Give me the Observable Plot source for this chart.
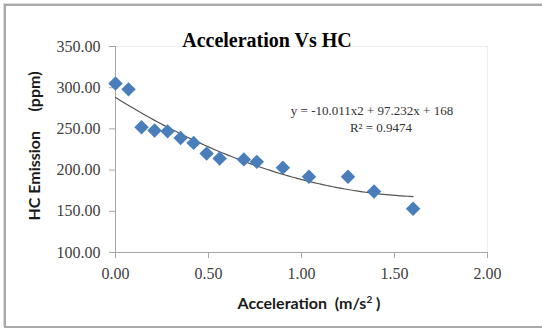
<!DOCTYPE html>
<html>
<head>
<meta charset="utf-8">
<script src="https://cdn.jsdelivr.net/npm/d3@7"></script>
<script src="https://cdn.jsdelivr.net/npm/@observablehq/plot@0.6"></script>
<style>
  html, body { margin: 0; padding: 0; background: #fff; }
  #wrap { position: relative; width: 542px; height: 329px; overflow: hidden; }
  #frame { position: absolute; left: 4px; top: 4px; width: 560px; height: 320px;
           border: 2px solid #a9a9a9; box-shadow: -1px -1px 0 #d8d8d8; }
  .t { position: absolute; white-space: pre; line-height: 1; }
  #title { left: 267px; top: 40px; transform: translate(-50%, -50%);
           font: bold 20px "Liberation Serif", serif; color: #000; }
  #eq { left: 372px; top: 111px; transform: translate(-50%, -50%);
        font: 13px "Liberation Serif", serif; color: #333; }
  #r2 { left: 381px; top: 128px; transform: translate(-50%, -50%);
        font: 13px "Liberation Serif", serif; color: #333; }
  #ylab { left: 33px; top: 146px; transform: translate(-50%, -50%) rotate(-90deg);
          font: bold 16px Lato, sans-serif; color: #1a1a1a; }
  #xlab { left: 309px; top: 302px; transform: translate(-50%, -50%);
          font: bold 16px Lato, sans-serif; color: #1a1a1a; }
  sup { font-size: 10px; vertical-align: 6px; }
</style>
</head>
<body>
<div id="wrap">
  <div id="chart"></div>
  <div id="frame"></div>
  <div class="t" id="title">Acceleration Vs HC</div>
  <div class="t" id="eq">y = -10.011x2 + 97.232x + 168</div>
  <div class="t" id="r2">R² = 0.9474</div>
  <div class="t" id="ylab">HC Emission     (ppm)</div>
  <div class="t" id="xlab">Acceleration  (m/s<sup>2</sup> )</div>
</div>
<script>
const acceleration = [0, 0.07, 0.14, 0.21, 0.28, 0.35, 0.42, 0.49, 0.56, 0.69, 0.76, 0.90, 1.04, 1.25, 1.39, 1.60];
const hcEmission   = [305, 298, 252, 248, 247, 239, 233, 220, 214, 213, 210, 203, 192, 192, 174, 153];
const xTicks = [0, 0.5, 1, 1.5, 2];
const yTicks = [100, 150, 200, 250, 300, 350];

const data = acceleration.map((x, i) => ({x, y: hcEmission[i]}));

// Polynomial (order 2) least-squares trendline, as Excel computes it
function quadFit(pts) {
  const S = (f) => pts.reduce((s, p) => s + f(p), 0);
  const n = pts.length, sx = S(p => p.x), sx2 = S(p => p.x ** 2), sx3 = S(p => p.x ** 3), sx4 = S(p => p.x ** 4);
  const sy = S(p => p.y), sxy = S(p => p.x * p.y), sx2y = S(p => p.x * p.x * p.y);
  const A = [[n, sx, sx2, sy], [sx, sx2, sx3, sxy], [sx2, sx3, sx4, sx2y]];
  for (let i = 0; i < 3; i++) {
    for (let k = i + 1; k < 3; k++) {
      const f = A[k][i] / A[i][i];
      for (let j = i; j < 4; j++) A[k][j] -= f * A[i][j];
    }
  }
  const c = [0, 0, 0];
  for (let i = 2; i >= 0; i--) {
    let s = A[i][3];
    for (let j = i + 1; j < 3; j++) s -= A[i][j] * c[j];
    c[i] = s / A[i][i];
  }
  return c;
}
const [c0, c1, c2] = quadFit(data);
const xmax = d3.max(acceleration);
const trend = d3.range(0, 101).map(i => {
  const x = xmax * i / 100;
  return {x, y: c0 + c1 * x + c2 * x * x};
});

const chart = Plot.plot({
  width: 542,
  height: 329,
  marginLeft: 115,
  marginRight: 55,
  marginTop: 46,
  marginBottom: 77,
  style: {fontFamily: "'Liberation Serif', serif", fontSize: "16px", color: "#404040", background: "transparent"},
  x: {domain: [0, 2]},
  y: {domain: [100, 350]},
  marks: [
    Plot.ruleX([2], {stroke: "#ececec"}),
    Plot.ruleY([350], {stroke: "#ececec"}),
    Plot.axisY({ticks: yTicks, tickFormat: d3.format(".2f"), tickSize: 6, tickPadding: 9, stroke: "#a6a6a6", fill: "#404040", fontSize: 16, label: null}),
    Plot.axisX({ticks: xTicks, tickFormat: d3.format(".2f"), tickSize: 6, tickPadding: 9, stroke: "#a6a6a6", fill: "#404040", fontSize: 16, label: null}),
    Plot.ruleX([0], {stroke: "#a6a6a6"}),
    Plot.ruleY([100], {stroke: "#a6a6a6"}),
    Plot.line(trend, {x: "x", y: "y", stroke: "#555555", strokeWidth: 1.2}),
    Plot.dot(data, {x: "x", y: "y", symbol: "diamond2", r: 6.5, fill: "#4a7ebb", stroke: "none"})
  ]
});
document.getElementById("chart").appendChild(chart);
</script>
</body>
</html>
